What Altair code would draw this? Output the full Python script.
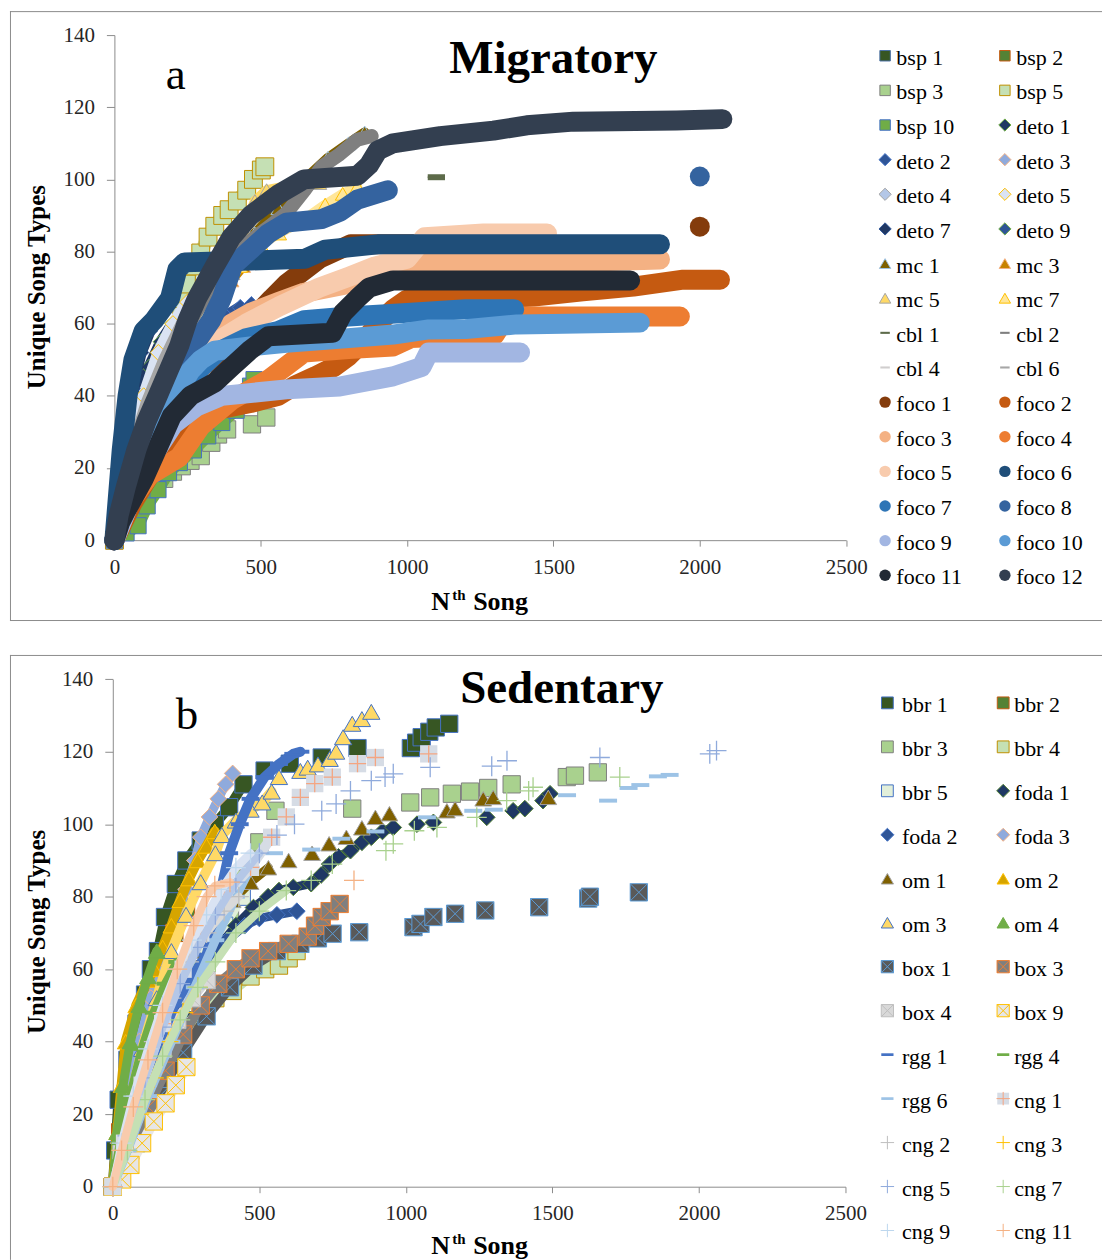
import altair as alt
import pandas as pd

SERIF = "Liberation Serif"
GRAY = "#8c8c8c"

# ---------------- Panel a : Migratory (x = Nth song, y = unique song types) ----------------
A_NAMES = ["bsp 1", "bsp 2", "bsp 3", "bsp 5", "bsp 10", "deto 1", "deto 2", "deto 3", "deto 4",
           "deto 5", "deto 7", "deto 9", "mc 1", "mc 3", "mc 5", "mc 7", "cbl 1", "cbl 2", "cbl 4",
           "cbl 6", "foco 1", "foco 2", "foco 3", "foco 4", "foco 5", "foco 6", "foco 7", "foco 8",
           "foco 9", "foco 10", "foco 11", "foco 12"]

A_BSP1 = [(0, 0), (20, 10), (50, 22), (90, 34), (130, 44), (170, 52)]
A_BSP2 = [(0, 0), (30, 10), (70, 20), (120, 30), (180, 38), (240, 44)]
A_BSP3 = [(0, 0), (30, 4), (60, 8), (100, 12), (140, 15), (170, 17), (200, 19), (230, 20.5), (260, 22),
          (295, 23.3), (331, 27), (354, 29.3), (385, 30.7), (470, 32.1), (519, 34)]
A_BSP5 = [(0, 0), (40, 12), (80, 22), (120, 32), (160, 42), (200, 52), (230, 62), (246, 71), (270, 76),
          (295, 79.6), (320, 84), (343, 87), (370, 90), (392, 91.6), (420, 94), (452, 97), (475, 100),
          (502, 102.6), (514, 103.5)]
A_BSP10 = [(0, 0), (40, 2), (81, 4), (112, 9.5), (149, 14), (185, 18.7), (222, 21.5), (270, 25),
           (319, 28.9), (367, 32.6), (416, 36), (465, 42.7), (477, 44.5)]
A_DETO1 = [(0, 0), (20, 12), (45, 25), (80, 38), (120, 48), (160, 55), (200, 60)]
A_DETO2 = [(0, 0), (40, 15), (90, 28), (150, 40), (220, 50), (300, 57), (380, 62), (430, 64.5),
           (468, 65.3), (550, 68.6)]
A_DETO3 = [(0, 0), (30, 12), (70, 25), (120, 38), (170, 48), (220, 56)]
A_DETO4 = [(0, 0), (35, 10), (80, 22), (130, 33), (190, 43), (250, 50)]
A_DETO5 = [(0, 0), (25, 14), (60, 28), (100, 40), (150, 52), (200, 60), (250, 66)]
A_DETO7 = [(0, 0), (15, 15), (35, 30), (60, 42), (90, 52), (120, 58)]
A_DETO9 = [(0, 0), (30, 10), (70, 20), (110, 30), (160, 38)]
A_MC1 = [(0, 0), (50, 15), (120, 32), (200, 48), (300, 62), (400, 75), (480, 85), (560, 92), (650, 100),
         (730, 106), (800, 110), (855, 113)]
A_MC3 = [(0, 0), (40, 15), (100, 30), (170, 45), (250, 58), (330, 66), (400, 72), (440, 76)]
A_MC5 = [(0, 0), (40, 15), (90, 28), (150, 42), (220, 55), (300, 64), (380, 70), (404, 74), (420, 80),
         (440, 86), (460, 90), (480, 94), (520, 97), (580, 98), (640, 98.5), (700, 99)]
A_MC7 = [(0, 0), (50, 14), (120, 30), (200, 46), (280, 58), (360, 68), (430, 76), (500, 82), (563, 85),
         (650, 89), (720, 93), (780, 96), (830, 98)]
A_CBL1 = [(0, 0), (30, 10), (70, 22), (120, 34), (180, 45), (240, 53)]
A_CBL1_EXTRA = [(1100, 100.9), (1100, 100.3)]
A_CBL2 = [(0, 0), (30, 12), (80, 25), (148, 41), (196, 50), (246, 59), (300, 66), (350, 72), (404, 78.6),
          (465, 83), (530, 87), (587, 90.6), (650, 97), (709, 103.6), (770, 107), (830, 111), (879, 112)]
A_CBL4 = [(0, 0), (20, 10), (50, 20), (90, 30), (140, 40)]
A_CBL6 = [(0, 0), (25, 12), (60, 25), (110, 38), (170, 50), (230, 60), (290, 68), (350, 75)]
A_FOCO1 = [(0, 0), (40, 10), (100, 20), (200, 33), (300, 45), (400, 55), (480, 62), (538, 67), (587, 71),
           (700, 78), (807, 82), (1000, 82), (1100, 82)]
A_FOCO1_EXTRA = [(2000, 86.9)]
A_FOCO2 = [(0, 0), (60, 10), (150, 22), (250, 32), (343, 36), (465, 38), (560, 40), (620, 43), (685, 45.4),
           (750, 48), (800, 51), (850, 55), (900, 60), (952, 64), (1000, 66.7), (1261, 66.7), (1432, 67.5),
           (1600, 69), (1773, 70.3), (1943, 72.2), (2069, 72.2)]
A_FOCO3 = [(0, 0), (40, 10), (100, 20), (180, 30), (260, 40), (300, 48), (343, 56.5), (400, 60), (465, 63),
           (560, 66), (648, 68.6), (800, 71), (891, 73), (977, 75.9), (1074, 76.8), (1545, 77), (1864, 77.8)]
A_FOCO4 = [(0, 0), (50, 10), (120, 18), (222, 23), (295, 31.6), (404, 39), (470, 42), (526, 44.5), (648, 52),
           (800, 53), (952, 53.7), (1013, 56), (1300, 57), (1340, 62), (1932, 62)]
A_FOCO5 = [(0, 0), (50, 12), (120, 25), (200, 38), (280, 48), (350, 55), (450, 60), (563, 64.8), (700, 70),
           (800, 73), (891, 75.9), (1000, 78), (1060, 84), (1261, 85), (1478, 85)]
A_FOCO6 = [(0, 0), (10, 10), (25, 25), (45, 40), (65, 50), (100, 58), (136, 61), (190, 67), (215, 75),
           (240, 77), (465, 77.5), (650, 78), (720, 80.5), (900, 82), (1864, 82)]
A_FOCO7 = [(0, 0), (40, 10), (100, 22), (180, 35), (260, 45), (350, 52), (450, 56), (560, 58), (648, 61),
           (800, 62), (1000, 63), (1200, 64), (1366, 64)]
A_FOCO8 = [(0, 0), (30, 8), (80, 20), (150, 33), (220, 45), (280, 55), (331, 61), (367, 67), (404, 76),
           (465, 80.5), (526, 85), (587, 88), (709, 89), (770, 91), (830, 94.4), (934, 97)]
A_FOCO8_EXTRA = [(2000, 100.8)]
A_FOCO9 = [(0, 0), (50, 10), (120, 22), (200, 32), (280, 37), (367, 40), (587, 41.8), (770, 42.6),
           (952, 45.4), (1049, 48), (1074, 52), (1386, 52)]
A_FOCO10 = [(0, 0), (30, 8), (70, 18), (120, 28), (170, 36), (222, 42), (260, 47), (295, 50), (343, 52.5),
            (465, 53.7), (587, 54.7), (800, 56), (952, 57), (1074, 58.4), (1200, 58.5), (1375, 59.8),
            (1795, 60.3)]
A_FOCO11 = [(0, 0), (20, 5), (39, 8), (100, 17), (161, 28), (196, 34.4), (260, 40), (343, 43.7), (400, 48),
            (465, 52.8), (526, 56.5), (745, 57.5), (781, 63), (830, 67), (870, 70), (952, 72), (1762, 72)]
A_FOCO12 = [(0, 0), (15, 7), (40, 15), (75, 25), (110, 33), (148, 40), (185, 47), (222, 54), (250, 61),
            (282, 67), (343, 76), (400, 84), (465, 90), (530, 94), (563, 96), (648, 100), (830, 101),
            (870, 104), (900, 108), (952, 110), (1113, 112), (1295, 113.5), (1409, 115), (1568, 116),
            (1921, 116.3), (2077, 116.7)]

A_SERIES = {"bsp 1": A_BSP1, "bsp 2": A_BSP2, "bsp 3": A_BSP3, "bsp 5": A_BSP5, "bsp 10": A_BSP10,
            "deto 1": A_DETO1, "deto 2": A_DETO2, "deto 3": A_DETO3, "deto 4": A_DETO4, "deto 5": A_DETO5,
            "deto 7": A_DETO7, "deto 9": A_DETO9, "mc 1": A_MC1, "mc 3": A_MC3, "mc 5": A_MC5, "mc 7": A_MC7,
            "cbl 1": A_CBL1, "cbl 2": A_CBL2, "cbl 4": A_CBL4, "cbl 6": A_CBL6, "foco 1": A_FOCO1,
            "foco 2": A_FOCO2, "foco 3": A_FOCO3, "foco 4": A_FOCO4, "foco 5": A_FOCO5, "foco 6": A_FOCO6,
            "foco 7": A_FOCO7, "foco 8": A_FOCO8, "foco 9": A_FOCO9, "foco 10": A_FOCO10,
            "foco 11": A_FOCO11, "foco 12": A_FOCO12}
A_EXTRAS = {"cbl 1": A_CBL1_EXTRA, "foco 1": A_FOCO1_EXTRA, "foco 8": A_FOCO8_EXTRA}

# ---------------- Panel b : Sedentary ----------------
B_NAMES = ["bbr 1", "bbr 2", "bbr 3", "bbr 4", "bbr 5", "foda 1", "foda 2", "foda 3", "om 1", "om 2",
           "om 3", "om 4", "box 1", "box 3", "box 4", "box 9", "rgg 1", "rgg 4", "rgg 6", "cng 1", "cng 2",
           "cng 3", "cng 5", "cng 7", "cng 9", "cng 11"]

B_BBR1 = [(0, 0), (8, 10), (20, 24), (50, 35), (81, 45), (110, 53), (130, 60), (154, 65), (178, 74.4),
          (215, 83.5), (251, 90), (300, 95.5), (348, 100), (397, 104.7), (446, 111), (518, 114.8),
          (604, 116.7), (713, 118.4), (835, 121), (1017, 121), (1035, 122.5), (1054, 124), (1080, 125.5),
          (1102, 126.7), (1148, 127.7)]
B_BBR2 = [(0, 0), (25, 15), (55, 28), (90, 40), (130, 52), (170, 62), (210, 70), (250, 77)]
B_BBR3 = [(0, 0), (50, 12), (100, 25), (150, 35), (200, 45), (250, 53), (300, 60), (350, 67), (400, 75),
          (450, 85), (500, 95), (555, 103.7), (817, 104.3), (1015, 106), (1083, 107.4), (1157, 108.4),
          (1219, 109), (1281, 110), (1361, 111), (1549, 113), (1577, 113.4), (1655, 114.3)]
B_BBR4 = [(0, 0), (50, 8), (100, 18), (150, 28), (200, 37), (250, 44), (300, 48), (350, 52), (409, 54),
          (470, 58), (520, 60), (567, 61), (600, 63), (627, 65)]
B_BBR5 = [(0, 0), (40, 10), (90, 22), (150, 35), (200, 45), (260, 55), (320, 64), (380, 72), (440, 80)]
B_FODA1 = [(0, 0), (60, 12), (120, 25), (180, 37), (240, 48), (300, 58), (360, 66), (420, 72), (480, 77),
           (530, 80), (567, 81.7), (616, 82.6), (677, 83.6), (711, 86), (740, 89), (770, 91), (811, 92.7),
           (850, 95), (882, 96.4), (920, 98), (957, 99.1), (1038, 100), (1094, 100.5), (1276, 101.9),
           (1366, 103.7), (1406, 104.3), (1468, 106.5), (1492, 108.4)]
B_FODA2 = [(0, 0), (40, 12), (90, 25), (150, 38), (210, 50), (270, 58), (330, 64), (390, 68), (450, 72),
           (500, 74), (560, 75), (628, 76)]
B_FODA3 = [(0, 0), (20, 12), (50, 25), (90, 40), (130, 52), (170, 63), (210, 72), (250, 82), (280, 90),
           (300, 96.4), (330, 102), (360, 107), (385, 111), (409, 114)]
B_OM1 = [(0, 0), (40, 12), (100, 28), (160, 42), (220, 55), (280, 65), (330, 72), (372, 77), (409, 79),
         (470, 84), (531, 88), (600, 90), (680, 92), (738, 94.6), (797, 96.4), (850, 99), (896, 101.9),
         (944, 102.9), (1140, 103.7), (1168, 104.3), (1264, 107), (1298, 107.4), (1486, 107.4)]
B_OM2 = [(0, 0), (15, 15), (30, 28), (44, 40), (80, 50), (120, 57), (141, 60), (170, 66), (200, 72),
         (230, 79), (260, 85), (290, 90), (320, 94), (348, 98)]
B_OM3 = [(0, 0), (30, 12), (60, 24), (100, 38), (150, 52), (200, 65), (250, 75), (300, 84), (350, 92),
         (372, 97), (420, 101), (470, 104), (510, 106), (542, 109), (567, 113), (640, 114.7), (665, 115.6),
         (700, 116.5), (740, 118), (762, 120), (786, 124), (817, 127.7), (850, 129), (882, 131)]
B_OM4 = [(0, 0), (15, 15), (35, 28), (60, 40), (90, 50), (120, 58), (150, 65)]
B_BOX1 = [(0, 0), (80, 12), (160, 25), (240, 37), (320, 47), (400, 55), (480, 61), (560, 65), (640, 67),
          (700, 68.5), (750, 69.8), (841, 70.2), (1026, 71.6), (1050, 72.5), (1094, 74.4), (1168, 75.3),
          (1271, 76.2), (1455, 77.1), (1622, 79.5), (1628, 80), (1795, 81.2)]
B_BOX3 = [(0, 0), (60, 10), (120, 22), (180, 32), (240, 42), (300, 50), (360, 56), (420, 60), (470, 63),
          (530, 65), (600, 67), (665, 69), (690, 72), (713, 74.4), (740, 76), (774, 78)]
B_BOX4 = [(0, 0), (30, 10), (70, 20), (120, 30), (170, 38), (220, 46), (270, 52), (320, 57)]
B_BOX9 = [(0, 0), (32, 2), (60, 6), (100, 12), (140, 18), (180, 23), (215, 28), (251, 33)]
B_RGG1 = [(0, 0), (40, 12), (90, 25), (150, 38), (210, 50), (270, 58), (320, 64), (348, 72), (372, 83),
          (397, 92), (433, 100), (470, 107), (518, 113), (567, 116.6), (616, 119.4), (640, 120)]
B_RGG4 = [(0, 0), (25, 12), (60, 25), (100, 38), (140, 48), (180, 56), (220, 62)]
B_RGG6 = [(0, 0), (50, 10), (120, 25), (200, 40), (280, 55), (350, 68), (420, 80), (470, 88), (550, 92),
          (677, 93), (780, 96), (896, 98), (1072, 101.9), (1230, 103.7), (1300, 104), (1550, 108),
          (1690, 106.5), (1760, 110), (1800, 110.8), (1860, 113.2), (1900, 113.6)]
B_CNG1 = [(0, 0), (40, 12), (100, 28), (170, 45), (240, 60), (300, 70), (380, 80), (470, 88.1), (542, 96.4),
          (592, 102), (640, 107.4), (689, 111.2), (749, 113), (835, 116.7), (896, 118.4), (1078, 119.4)]
B_CNG2 = [(0, 0), (30, 10), (80, 25), (140, 40), (200, 52), (260, 62), (320, 70), (380, 76), (430, 80)]
B_CNG3 = [(0, 0), (40, 10), (90, 20), (140, 30), (190, 40), (240, 48), (290, 55)]
B_CNG5 = [(0, 0), (50, 14), (110, 30), (170, 44), (230, 56), (290, 66), (350, 75), (420, 84), (500, 92),
          (560, 97), (620, 100), (713, 103.7), (762, 105.6), (811, 109.2), (882, 112), (929, 113),
          (957, 113.9), (1083, 115.7), (1293, 116), (1345, 117.5), (1662, 118.4), (2037, 119.4), (2060, 120.3)]
B_CNG7 = [(0, 0), (50, 10), (110, 24), (170, 36), (230, 46), (290, 55), (350, 62), (420, 70), (500, 76),
          (592, 81.7), (677, 84.5), (749, 89), (932, 92.7), (957, 94.6), (1029, 98.2), (1106, 99.1),
          (1242, 101.9), (1344, 106.5), (1419, 109.2), (1434, 110.2), (1730, 113)]
B_CNG9 = [(0, 0), (30, 12), (70, 25), (120, 38), (170, 50), (220, 60), (270, 68), (320, 75), (370, 82),
          (420, 88), (470, 92)]
B_CNG11 = [(0, 0), (30, 10), (70, 22), (120, 35), (170, 48), (220, 60), (276, 72), (320, 80), (348, 83),
           (400, 84), (823, 84.5)]

B_SERIES = {"bbr 1": B_BBR1, "bbr 2": B_BBR2, "bbr 3": B_BBR3, "bbr 4": B_BBR4, "bbr 5": B_BBR5,
            "foda 1": B_FODA1, "foda 2": B_FODA2, "foda 3": B_FODA3, "om 1": B_OM1, "om 2": B_OM2,
            "om 3": B_OM3, "om 4": B_OM4, "box 1": B_BOX1, "box 3": B_BOX3, "box 4": B_BOX4, "box 9": B_BOX9,
            "rgg 1": B_RGG1, "rgg 4": B_RGG4, "rgg 6": B_RGG6, "cng 1": B_CNG1, "cng 2": B_CNG2,
            "cng 3": B_CNG3, "cng 5": B_CNG5, "cng 7": B_CNG7, "cng 9": B_CNG9, "cng 11": B_CNG11}
B_EXTRAS = {}

# ---------------- styles ----------------
SQ, DI, TR, CI = "square", "diamond", "triangle-up", "circle"
DASH = "M-1,-0.22H1V0.22H-1Z"
PLUS = "M-1,0H1M0,-1V1"
BOXX = "M-1,-1H1V1H-1ZM-1,-1L1,1M1,-1L-1,1"


def st(shape, fill, stroke, size, sw=1.0, band=None, pts=True, extra=None):
    marks = [(shape, fill, stroke, size, sw)]
    if extra:
        marks.append(extra)
    return {"marks": marks, "band": band, "pts": pts}


def foco(c):
    return st(CI, c, c, 400, 0, band=(20, c, 99999), pts=False)


A_STYLE = {
    "bsp 1": st(SQ, "#375623", "#4a6fa5", 300, band=(14, "#375623", 9999)),
    "bsp 2": st(SQ, "#548235", "#c55a11", 300, band=(14, "#548235", 9999)),
    "bsp 3": st(SQ, "#a9d18e", "#7f7f7f", 300, band=(12, "#a9d18e", 300)),
    "bsp 5": st(SQ, "#c5e0b4", "#bf9000", 320, band=(14, "#c5e0b4", 520)),
    "bsp 10": st(SQ, "#70ad47", "#4472c4", 260, band=(12, "#70ad47", 480)),
    "deto 1": st(DI, "#1f3864", "#70ad47", 260, band=(12, "#1f3864", 9999)),
    "deto 2": st(DI, "#2f5597", "#4472c4", 260, band=(12, "#2f5597", 440)),
    "deto 3": st(DI, "#8faadc", "#f4b183", 260, band=(12, "#8faadc", 9999)),
    "deto 4": st(DI, "#b4c7e7", "#a5a5a5", 260, band=(12, "#b4c7e7", 9999)),
    "deto 5": st(DI, "#dae3f3", "#ffc000", 260, band=(12, "#dae3f3", 9999)),
    "deto 7": st(DI, "#203864", "#2f5597", 260, band=(12, "#203864", 9999)),
    "deto 9": st(DI, "#2f5597", "#70ad47", 260, band=(12, "#2f5597", 9999)),
    "mc 1": st(TR, "#7f6000", "#9dc3e6", 220, band=(10, "#7f6000", 9999)),
    "mc 3": st(TR, "#c78200", "#f4b183", 220, band=(10, "#c78200", 9999)),
    "mc 5": st(TR, "#ffd966", "#a5a5a5", 220, band=(10, "#ffd966", 9999)),
    "mc 7": st(TR, "#ffe699", "#ffc000", 220, band=(10, "#ffe699", 9999)),
    "cbl 1": st(DASH, "#5d6b4a", "#5d6b4a", 300, 0, band=(12, "#404040", 9999), pts=False),
    "cbl 2": st(DASH, "#7f7f7f", "#7f7f7f", 300, 0, band=(14, "#7f7f7f", 9999), pts=False),
    "cbl 4": st(DASH, "#d0cece", "#d0cece", 300, 0, band=(12, "#d0cece", 9999), pts=False),
    "cbl 6": st(DASH, "#a6a6a6", "#a6a6a6", 300, 0, band=(12, "#a6a6a6", 9999), pts=False),
    "foco 1": foco("#843c0c"), "foco 2": foco("#c55a11"), "foco 3": foco("#f4b183"),
    "foco 4": foco("#ed7d31"), "foco 5": foco("#f8cbad"), "foco 6": foco("#1f4e79"),
    "foco 7": foco("#2e75b6"), "foco 8": foco("#34639f"), "foco 9": foco("#a2b6e2"),
    "foco 10": foco("#5b9bd5"), "foco 11": foco("#222a35"), "foco 12": foco("#333f50"),
}

B_STYLE = {
    "bbr 1": st(SQ, "#375623", "#4472c4", 300, band=(10, "#375623", 446)),
    "bbr 2": st(SQ, "#548235", "#c55a11", 300, band=(10, "#548235", 9999)),
    "bbr 3": st(SQ, "#a9d18e", "#7f7f7f", 300, band=(10, "#a9d18e", 500)),
    "bbr 4": st(SQ, "#c5e0b4", "#bf9000", 300, band=(10, "#c5e0b4", 630)),
    "bbr 5": st(SQ, "#e2efda", "#4472c4", 300, band=(10, "#e2efda", 9999)),
    "foda 1": st(DI, "#1f3864", "#548235", 280, band=(9, "#1f3864", 957)),
    "foda 2": st(DI, "#2f5597", "#4472c4", 280, band=(9, "#2f5597", 9999)),
    "foda 3": st(DI, "#8faadc", "#f4b183", 280, band=(9, "#8faadc", 9999)),
    "om 1": st(TR, "#7f6000", "#a5a5a5", 280, band=(9, "#7f6000", 531)),
    "om 2": st(TR, "#d6a500", "#ffc000", 280, band=(10, "#d6a500", 9999)),
    "om 3": st(TR, "#ffd966", "#4472c4", 300, band=(10, "#ffd966", 542)),
    "om 4": st(TR, "#70ad47", "#70ad47", 280, band=(9, "#70ad47", 9999)),
    "box 1": st(BOXX, "#595959", "#5b9bd5", 300, band=(10, "#595959", 700)),
    "box 3": st(BOXX, "#7f7f7f", "#ed7d31", 300, band=(10, "#7f7f7f", 9999)),
    "box 4": st(BOXX, "#d9d9d9", "#bfbfbf", 300, band=(10, "#d9d9d9", 9999)),
    "box 9": st(BOXX, "#e7e6e6", "#ffc000", 300, band=(10, "#e7e6e6", 9999)),
    "rgg 1": st(DASH, "#4472c4", "#4472c4", 324, 0, band=(10, "#4472c4", 9999)),
    "rgg 4": st(DASH, "#70ad47", "#70ad47", 324, 0, band=(9, "#70ad47", 9999)),
    "rgg 6": st(DASH, "#9dc3e6", "#9dc3e6", 324, 0, band=(9, "#9dc3e6", 470)),
    "cng 1": st(SQ, "#d6dce5", "#d6dce5", 300, 0, band=(10, "#d6dce5", 542),
                extra=(PLUS, "transparent", "#f4a582", 300, 1.3)),
    "cng 2": st(PLUS, "transparent", "#bfbfbf", 400, 1.3, band=(8, "#d9d9d9", 9999)),
    "cng 3": st(PLUS, "transparent", "#ffc000", 400, 1.3, band=(8, "#ffd966", 9999)),
    "cng 5": st(PLUS, "transparent", "#8faadc", 400, 1.3, band=(8, "#b4c7e7", 500)),
    "cng 7": st(PLUS, "transparent", "#a9d18e", 400, 1.3, band=(8, "#c5e0b4", 600)),
    "cng 9": st(PLUS, "transparent", "#bdd7ee", 400, 1.3, band=(8, "#dae3f3", 9999)),
    "cng 11": st(PLUS, "transparent", "#f4b183", 400, 1.3, band=(8, "#f8cbad", 400)),
}

A_LSIZE = {SQ: 110, DI: 150, TR: 130, CI: 130, DASH: 90, PLUS: 170, BOXX: 150}
B_LSIZE = {SQ: 140, DI: 170, TR: 150, CI: 140, DASH: 150, PLUS: 180, BOXX: 150}

A_CFG = dict(W=1094, H=611, x0=104.6, x1=837.7, y0=530, y1=24,
             lx0=876.7, lx1=996.7, tx0=888, tx1=1008, ly0=44.7, ly1=565.2, lsize=A_LSIZE,
             letter="a", lx=156, ly=78, title="Migratory", ttx=440, tty=62.3, yt_x=35, yt_y=276.5,
             border_bottom=True)
B_CFG = dict(W=1094, H=606, x0=103, x1=837, y0=532.7, y1=24.3,
             lx0=879, lx1=995, tx0=893.7, tx1=1006, ly0=48, ly1=576.6, lsize=B_LSIZE,
             letter="b", lx=166, ly=74, title="Sedentary", ttx=451, tty=47.7, yt_x=35, yt_y=277.5,
             border_bottom=False)

ONE = pd.DataFrame({"k": [0]})


def text_layer(txt, x, y, size, bold=False, angle=0, align="left"):
    kw = dict(font=SERIF, fontSize=size, fontWeight="bold" if bold else "normal", align=align,
              baseline="alphabetic", color="#000000")
    if angle:
        kw["angle"] = angle
    return alt.Chart(pd.DataFrame({"t": [txt]})).mark_text(**kw).encode(
        x=alt.value(x), y=alt.value(y), text="t:N")


def panel(names, series, extras, styles, cfg):
    W, H = cfg["W"], cfg["H"]
    xs = alt.Scale(domain=[0, 2500], range=[cfg["x0"], cfg["x1"]], nice=False, zero=False)
    ys = alt.Scale(domain=[0, 140], range=[cfg["y0"], cfg["y1"]], nice=False, zero=False)
    common = dict(grid=False, title=None, domainColor=GRAY, tickColor=GRAY, domainWidth=1, tickWidth=1,
                  labelFont=SERIF, labelFontSize=21, labelColor="#262626", labelFlush=False,
                  labelOverlap=False, format="d")
    axx = alt.Axis(values=[0, 500, 1000, 1500, 2000, 2500], offset=-(H - cfg["y0"]), tickSize=6,
                   labelPadding=10, **common)
    axy = alt.Axis(values=[0, 20, 40, 60, 80, 100, 120, 140], offset=-cfg["x0"], tickSize=8,
                   labelPadding=12, **common)
    X = alt.X("x:Q", scale=xs, axis=axx)
    Y = alt.Y("y:Q", scale=ys, axis=axy)

    data_layers = [alt.Chart(pd.DataFrame({"x": [0, 2500], "y": [0, 140]})).mark_point(opacity=0)
                   .encode(x=X, y=Y)]
    for name in names:
        pts = series[name]
        s = styles[name]
        df = pd.DataFrame({"x": [p[0] for p in pts], "y": [p[1] for p in pts], "i": list(range(len(pts)))})
        if s["band"]:
            w, c, until = s["band"]
            bdf = df[df["x"] <= until]
            if len(bdf) > 1:
                data_layers.append(
                    alt.Chart(bdf).mark_line(strokeWidth=w, color=c, strokeCap="round", strokeJoin="round")
                    .encode(x=X, y=Y, order="i:Q"))
        ex = extras.get(name, [])
        frames = []
        if s["pts"]:
            frames.append(df[["x", "y"]])
        if ex:
            frames.append(pd.DataFrame({"x": [p[0] for p in ex], "y": [p[1] for p in ex]}))
        if frames:
            mdf = pd.concat(frames, ignore_index=True)
            for (shape, fill, stroke, size, sw) in s["marks"]:
                data_layers.append(
                    alt.Chart(mdf).mark_point(shape=shape, filled=True, fill=fill, stroke=stroke, size=size,
                                              strokeWidth=sw, opacity=1).encode(x=X, y=Y))
    data = alt.layer(*data_layers)

    # legend (two columns, row-major)
    rows = []
    for k, name in enumerate(names):
        for (shape, fill, stroke, size, sw) in styles[name]["marks"]:
            rows.append(dict(col=k % 2, row=k // 2, shape=shape, fill=fill, stroke=stroke,
                             size=cfg["lsize"][shape], sw=min(sw, 1.0), name=name))
    ldf = pd.DataFrame(rows)
    nrow = (len(names) + 1) // 2
    ly = alt.Scale(domain=[0, nrow - 1], range=[cfg["ly0"], cfg["ly1"]], nice=False, zero=False)
    leg_pts = alt.Chart(ldf).mark_point(filled=True, opacity=1).encode(
        x=alt.X("col:Q", scale=alt.Scale(domain=[0, 1], range=[cfg["lx0"], cfg["lx1"]], nice=False), axis=None),
        y=alt.Y("row:Q", scale=ly, axis=None),
        shape=alt.Shape("shape:N", scale=None),
        fill=alt.Fill("fill:N", scale=None),
        stroke=alt.Stroke("stroke:N", scale=None),
        size=alt.Size("size:Q", scale=None),
        strokeWidth=alt.StrokeWidth("sw:Q", scale=None))
    tdf = ldf.drop_duplicates("name")
    leg_txt = alt.Chart(tdf).mark_text(font=SERIF, fontSize=22, align="left", baseline="middle", dy=2,
                                       color="#000000").encode(
        x=alt.X("col:Q", scale=alt.Scale(domain=[0, 1], range=[cfg["tx0"], cfg["tx1"]], nice=False), axis=None),
        y=alt.Y("row:Q", scale=ly, axis=None),
        text="name:N")

    texts = [
        text_layer(cfg["letter"], cfg["lx"], cfg["ly"], 45),
        text_layer(cfg["title"], cfg["ttx"], cfg["tty"], 47, bold=True),
        text_layer("Unique Song Types", cfg["yt_x"], cfg["yt_y"], 25, bold=True, angle=270, align="center"),
        text_layer("N", 422, 600, 26, bold=True),
        text_layer("th", 443, 590, 15, bold=True),
        text_layer("Song", 464, 600, 26, bold=True),
    ]
    rules = [
        alt.Chart(ONE).mark_rule(color=GRAY, strokeWidth=1).encode(
            x=alt.value(0), x2=alt.value(W), y=alt.value(0.5)),
        alt.Chart(ONE).mark_rule(color=GRAY, strokeWidth=1).encode(
            x=alt.value(0.5), y=alt.value(0), y2=alt.value(H)),
    ]
    if cfg["border_bottom"]:
        rules.append(alt.Chart(ONE).mark_rule(color=GRAY, strokeWidth=1).encode(
            x=alt.value(0), x2=alt.value(W), y=alt.value(H - 0.5)))

    return alt.layer(data, leg_pts, leg_txt, *texts, *rules).resolve_scale(
        x="independent", y="independent").properties(width=W, height=H)


pa = panel(A_NAMES, A_SERIES, A_EXTRAS, A_STYLE, A_CFG)
pb = panel(B_NAMES, B_SERIES, B_EXTRAS, B_STYLE, B_CFG)

chart = alt.vconcat(pa, pb, spacing=32).properties(
    padding={"left": 9, "top": 9, "right": 0, "bottom": 0}
).configure_view(stroke=None)

chart.save("out.html", embed_options={"renderer": "svg", "actions": False})
